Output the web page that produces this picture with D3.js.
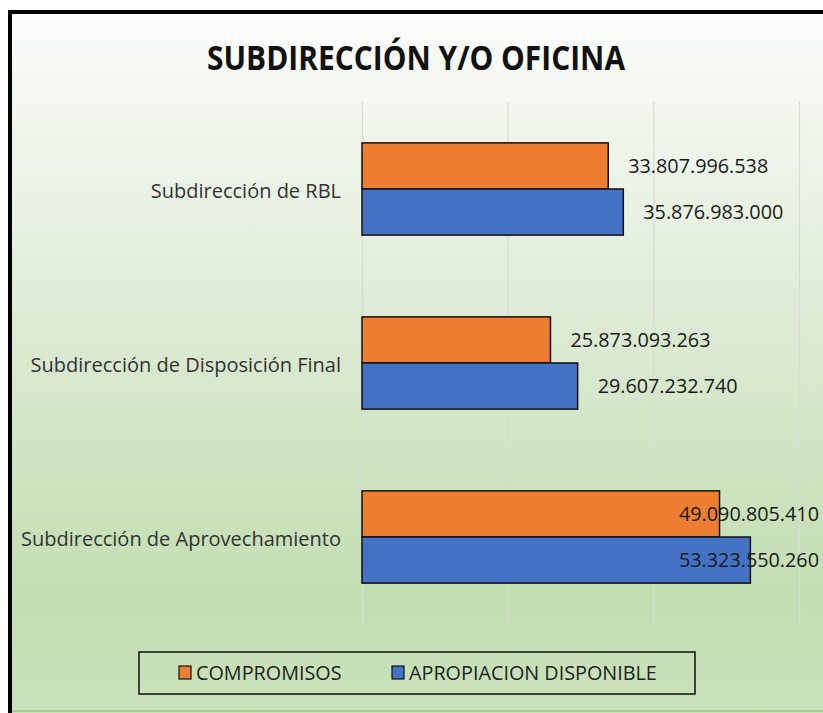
<!DOCTYPE html>
<html>
<head>
<meta charset="utf-8">
<script src="https://cdn.jsdelivr.net/npm/d3@7"></script>
<style>
  html, body { margin: 0; padding: 0; background: #fff; }
  svg text { font-family: "Open Sans", "DejaVu Sans", sans-serif; }
</style>
</head>
<body>
<div id="chartholder"></div>
<script>
// chart data
var title = "SUBDIRECCIÓN Y/O OFICINA";
var categories = ["Subdirección de RBL", "Subdirección de Disposición Final", "Subdirección de Aprovechamiento"];
var seriesNames = ["COMPROMISOS", "APROPIACION DISPONIBLE"];
var compromisos = [33807996538, 25873093263, 49090805410];
var apropiacion = [35876983000, 29607232740, 53323550260];
var gridTicks = [0, 20000000000, 40000000000, 60000000000];
var colors = ["#ED7D31", "#4472C4"];

var W = 823, H = 713;

var svg = d3.select("#chartholder")
  .append("svg")
  .attr("width", W)
  .attr("height", H);

// background gradient
var grad = svg.append("defs").append("linearGradient")
  .attr("id", "bg").attr("x1", 0).attr("y1", 0).attr("x2", 0).attr("y2", 1);
grad.append("stop").attr("offset", "0%").attr("stop-color", "#fdfdfc");
grad.append("stop").attr("offset", "45%").attr("stop-color", "#dcead3");
grad.append("stop").attr("offset", "82%").attr("stop-color", "#c3deb1");
grad.append("stop").attr("offset", "100%").attr("stop-color", "#cbe2bc");

svg.append("rect")
  .attr("x", 8).attr("y", 10)
  .attr("width", W).attr("height", H)
  .attr("fill", "url(#bg)");

// bottom green edge
svg.append("line")
  .attr("x1", 8).attr("x2", W).attr("y1", 711).attr("y2", 711)
  .attr("stroke", "#a8cf8e").attr("stroke-width", 2);

// border top + left
svg.append("path")
  .attr("d", "M10," + H + "V12H" + W)
  .attr("fill", "none")
  .attr("stroke", "#000")
  .attr("stroke-width", 4);

// title (slightly condensed like the source)
svg.append("text")
  .attr("x", 416).attr("y", 70)
  .attr("text-anchor", "middle")
  .attr("font-size", 34)
  .attr("font-weight", "bold")
  .attr("fill", "#111")
  .attr("textLength", 418)
  .attr("lengthAdjust", "spacingAndGlyphs")
  .text(title);

var margin = {top: 102, left: 362},
    plotW = 437, plotH = 522;

var g = svg.append("g")
  .attr("transform", "translate(" + margin.left + "," + margin.top + ")");

var x = d3.scaleLinear().domain([0, 60000000000]).range([0, plotW]);
var y = d3.scaleBand().domain(categories).range([0, plotH])
  .paddingInner(0.47).paddingOuter(0.235);
var ySub = d3.scaleBand().domain(seriesNames).range([0, y.bandwidth()]);

// gridlines
g.append("g")
  .attr("class", "grid")
  .attr("transform", "translate(0," + plotH + ")")
  .call(d3.axisBottom(x).tickValues(gridTicks).tickSize(plotH).tickFormat(""))
  .call(function(s) {
    s.select(".domain").remove();
    s.selectAll(".tick line")
      .attr("y2", -plotH)
      .attr("stroke", "#d6ddd2")
      .attr("stroke-width", 1.2);
  });

// category labels
g.append("g")
  .selectAll("text")
  .data(categories)
  .enter().append("text")
  .attr("x", -21)
  .attr("y", function(d) { return y(d) + y.bandwidth() / 2 + 9; })
  .attr("text-anchor", "end")
  .attr("font-size", 20)
  .attr("fill", "#333")
  .text(function(d) { return d; });

var rows = [];
categories.forEach(function(c, i) {
  rows.push({cat: c, s: seriesNames[0], v: compromisos[i], k: 0});
  rows.push({cat: c, s: seriesNames[1], v: apropiacion[i], k: 1});
});

g.selectAll(".bar")
  .data(rows)
  .enter().append("rect")
  .attr("class", "bar")
  .attr("x", 0)
  .attr("y", function(d) { return y(d.cat) + ySub(d.s); })
  .attr("width", function(d) { return x(d.v); })
  .attr("height", ySub.bandwidth())
  .attr("fill", function(d) { return colors[d.k]; })
  .attr("stroke", "#111")
  .attr("stroke-width", 1.5);

var fmt = function(v) { return d3.format(",")(v).replace(/,/g, "."); };
var rightLimit = 819 - margin.left;

g.selectAll(".val")
  .data(rows)
  .enter().append("text")
  .attr("class", "val")
  .attr("y", function(d) { return y(d.cat) + ySub(d.s) + ySub.bandwidth() / 2 + 7; })
  .attr("font-size", 19.8)
  .attr("fill", "#1a1a1a")
  .text(function(d) { return fmt(d.v); })
  .each(function(d) {
    var w = this.getComputedTextLength();
    var px = x(d.v) + 20;
    if (px + w > rightLimit) px = rightLimit - w;
    d3.select(this).attr("x", px);
  });

// legend
var leg = svg.append("g");
leg.append("rect")
  .attr("x", 139).attr("y", 652)
  .attr("width", 556).attr("height", 42)
  .attr("fill", "none")
  .attr("stroke", "#111")
  .attr("stroke-width", 1.5);

var legX = [179, 392];
seriesNames.forEach(function(s, i) {
  leg.append("rect")
    .attr("x", legX[i]).attr("y", 666)
    .attr("width", 12).attr("height", 13)
    .attr("fill", colors[i])
    .attr("stroke", "#111")
    .attr("stroke-width", 1.2);
  leg.append("text")
    .attr("x", legX[i] + 17).attr("y", 680)
    .attr("font-size", 19.8)
    .attr("fill", "#222")
    .text(s);
});
</script>
</body>
</html>
